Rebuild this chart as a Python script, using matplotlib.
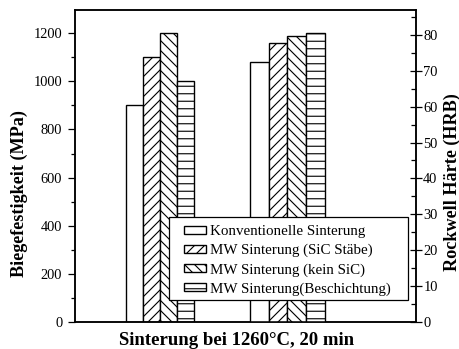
import matplotlib
matplotlib.use("Agg")
from matplotlib import pyplot as plt
from matplotlib.patches import Rectangle
import numpy as np

# data
labels = ["Konventionelle Sinterung", "MW Sinterung (SiC Stäbe)",
          "MW Sinterung (kein SiC)", "MW Sinterung(Beschichtung)"]
hatches = ["", "///", "\\\\\\", "--"]
strength_mpa = [900, 1100, 1200, 1000]      # left axis, first group
hardness_hrb = [72.5, 77.7, 79.7, 80.6]     # right axis, second group

plt.rcParams["font.family"] = ["Liberation Serif", "DejaVu Serif"]
plt.rcParams["hatch.linewidth"] = 0.9
plt.rcParams["axes.linewidth"] = 1.2

fig = plt.figure(figsize=(460 / 90, 349 / 90), dpi=90)
ax = fig.add_axes([0.1624, 0.0782, 0.7413, 0.8923])
ax2 = ax.twinx()

w1, w2 = 0.1347, 0.1468
off = np.arange(4) - 1.5

bars = []
for i in range(4):
    b = ax.bar(0 + off[i] * w1, strength_mpa[i], w1, color="white",
               edgecolor="black", linewidth=1.1, hatch=hatches[i], label=labels[i])
    bars.append(b)
    ax2.bar(1 + off[i] * w2, hardness_hrb[i], w2, color="white",
            edgecolor="black", linewidth=1.1, hatch=hatches[i])

ax.set_xlim(-0.670, 2.008)
ax.set_ylim(0, 1296)
ax2.set_ylim(0, 86.9)

ax.set_xticks([])
ax.set_yticks(np.arange(0, 1201, 200))
ax.set_yticks(np.arange(0, 1300, 100), minor=True)
ax.tick_params(axis="y", which="major", direction="out", length=6, width=1,
               labelsize=11.5, pad=4)
ax.tick_params(axis="y", which="minor", direction="out", length=3, width=1)

ax2.set_yticks(np.arange(0, 81, 10))
ax2.set_yticks(np.arange(0, 87, 5), minor=True)
ax2.tick_params(axis="y", which="major", direction="inout", length=10, width=1,
                labelsize=11.5, pad=1)
ax2.tick_params(axis="y", which="minor", direction="in", length=4, width=1)

ax.set_ylabel("Biegefestigkeit (MPa)", fontsize=14.5, fontweight="bold")
ax.yaxis.set_label_coords(-0.136, 0.412)
ax2.set_ylabel("Rockwell Härte (HRB)", fontsize=14.5, fontweight="bold")
ax2.yaxis.set_label_coords(1.082, 0.447)
ax.set_xlabel("Sinterung bei 1260°C, 20 min", fontsize=15, fontweight="bold")
ax.xaxis.set_label_coords(0.4745, -0.033)

# legend box
ax2.add_patch(Rectangle((0.2765, 0.0697), 0.7009, 0.2665, transform=ax2.transAxes,
                        facecolor="white", edgecolor="black", linewidth=1.0,
                        zorder=4, clip_on=False))
ax2.legend(handles=bars, labels=labels, loc="center",
           bbox_to_anchor=(0.624, 0.1965), borderaxespad=0, frameon=False,
           fontsize=12, handlelength=1.47, handleheight=0.45, handletextpad=0.27,
           labelspacing=0.37, borderpad=0)

fig.savefig("out.png", dpi=90)
